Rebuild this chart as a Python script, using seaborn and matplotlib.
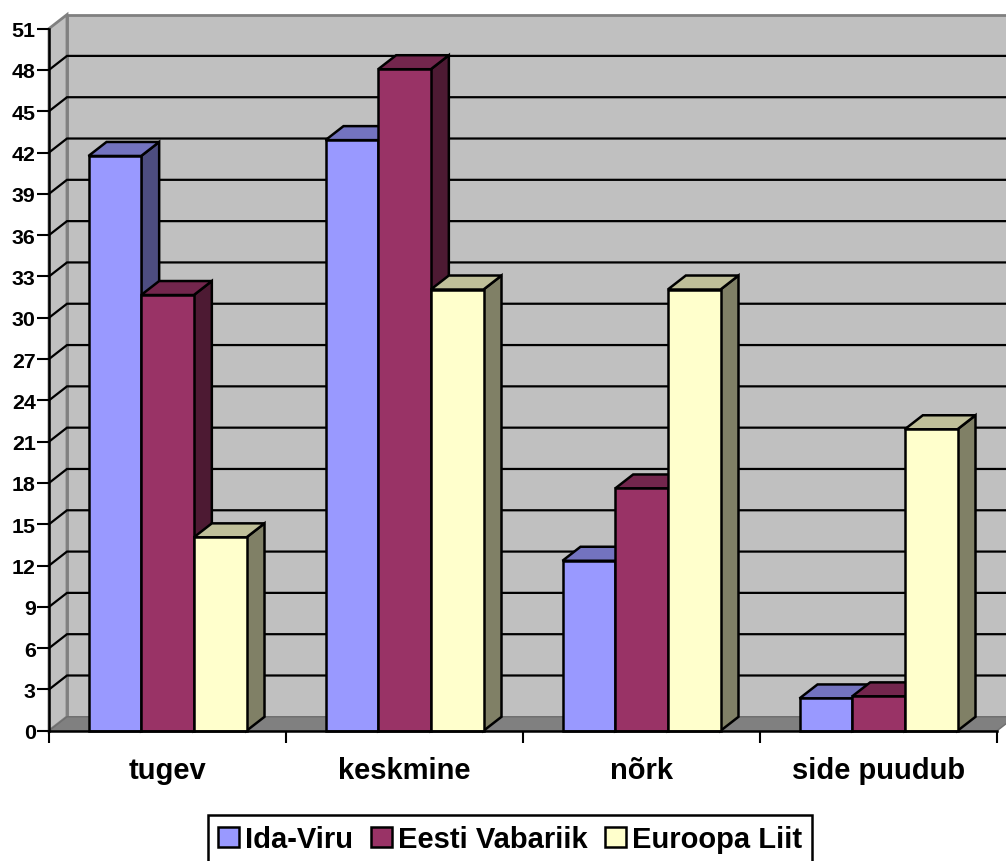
import matplotlib
matplotlib.use("Agg")
import matplotlib.pyplot as plt
from matplotlib.patches import Polygon, Patch
import pandas as pd
import seaborn as sns

categories = ["tugev", "keskmine", "nõrk", "side puudub"]
series_names = ["Ida-Viru", "Eesti Vabariik", "Euroopa Liit"]
ida_viru = [41.75, 42.9, 12.35, 2.35]
eesti_vabariik = [31.65, 48.05, 17.6, 2.5]
euroopa_liit = [14.05, 32.05, 32.05, 21.9]
front_colors = ["#9999FF", "#993366", "#FFFFCC"]
top_colors = ["#7373BF", "#73264D", "#BFBF99"]
side_colors = ["#4D4D80", "#4D1A33", "#808066"]
y_ticks = list(range(0, 52, 3))

sns.set_theme(style="ticks")
plt.rcParams["font.family"] = ["Liberation Sans", "DejaVu Sans"]
plt.rcParams["font.weight"] = "bold"

W, H = 1006, 862
AX_BOTTOM, AX_TOP = 731.8, 29.6
LW = 1.8
fig = plt.figure(figsize=(W / 100, H / 100), dpi=100, facecolor="white")
ax = fig.add_axes([49 / W, (H - AX_BOTTOM) / H, (997 - 49) / W, (AX_BOTTOM - AX_TOP) / H])

table = pd.DataFrame({
    "kategooria": categories * 3,
    "seeria": [s for s in series_names for _ in categories],
    "protsent": ida_viru + eesti_vabariik + euroopa_liit,
})
sns.barplot(data=table, x="kategooria", y="protsent", hue="seeria",
            hue_order=series_names, palette=front_colors, order=categories,
            width=2 / 3, gap=0, saturation=1, legend=False, ax=ax,
            edgecolor="black", linewidth=LW, err_kws={"linewidth": 0})

ax.set_xlim(-0.5, 3.5)
ax.set_ylim(0, 51)
ax.set_xlabel("")
ax.set_ylabel("")
ax.set_facecolor("none")

# Depth of the pseudo-3D box, expressed in data units
dx = 18 / ((997 - 49) / 4)
dy = 14 / ((AX_BOTTOM - AX_TOP) / 51)
xl, xr = ax.get_xlim()
ytop = ax.get_ylim()[1]
GRAY = "#808080"
WALL = "#C0C0C0"

ax.add_patch(Polygon([(xl + dx, dy), (xr + dx, dy), (xr + dx, ytop + dy), (xl + dx, ytop + dy)],
                     closed=True, fc=WALL, ec=GRAY, lw=2, zorder=0.2, clip_on=False))
ax.add_patch(Polygon([(xl, 0), (xl + dx, dy), (xl + dx, ytop + dy), (xl, ytop)],
                     closed=True, fc=WALL, ec=GRAY, lw=2, zorder=0.3, clip_on=False))
ax.add_patch(Polygon([(xl, 0), (xr, 0), (xr + dx, dy), (xl + dx, dy)],
                     closed=True, fc=GRAY, ec="#6E6E6E", lw=1, zorder=0.4, clip_on=False))

for t in y_ticks[1:-1]:
    ax.plot([xl, xl + dx, xr + dx], [t, t + dy, t + dy], color="black", lw=1.6,
            zorder=0.5, clip_on=False, solid_joinstyle="miter")

# Bars stack left to right so each front face hides its neighbour's side face
order = 2.0
bars = sorted((b for c in ax.containers for b in c), key=lambda b: b.get_x())
for bar in bars:
    idx = next(i for i, c in enumerate(ax.containers) if bar in c.patches)
    x0, w, h = bar.get_x(), bar.get_width(), bar.get_height()
    x1 = x0 + w
    ax.add_patch(Polygon([(x1, 0), (x1 + dx, dy), (x1 + dx, h + dy), (x1, h)], closed=True,
                         fc=side_colors[idx], ec="black", lw=LW, zorder=order,
                         clip_on=False, joinstyle="miter"))
    ax.add_patch(Polygon([(x0, h), (x0 + dx, h + dy), (x1 + dx, h + dy), (x1, h)], closed=True,
                         fc=top_colors[idx], ec="black", lw=LW, zorder=order + 0.1,
                         clip_on=False, joinstyle="miter"))
    bar.set_zorder(order + 0.2)
    bar.set_clip_on(False)
    order += 1

for name in ("top", "right"):
    ax.spines[name].set_visible(False)
for name in ("left", "bottom"):
    ax.spines[name].set_color("black")
    ax.spines[name].set_linewidth(LW)
    ax.spines[name].set_zorder(100)

ax.set_yticks(y_ticks)
ax.tick_params(axis="y", which="major", length=8.6, width=1.5, color="black",
               labelsize=15.4, pad=1.0, labelcolor="black")
boundaries = [i - 0.5 for i in range(len(categories) + 1)]
ax.set_xticks(boundaries)
ax.set_xticklabels([""] * len(boundaries))
ax.tick_params(axis="x", which="major", length=8.6, width=1.5, color="black")
ax.set_xticks(range(len(categories)), categories, minor=True)
ax.tick_params(axis="x", which="minor", length=0, labelsize=21, pad=18, labelcolor="black")
for lab in ax.get_xticklabels(minor=True) + ax.get_yticklabels():
    lab.set_fontweight("bold")

# The legend box runs past the lower edge of the figure
handles = [Patch(facecolor=c, edgecolor="black", linewidth=LW, label=n)
           for c, n in zip(front_colors, series_names)]
leg = fig.legend(handles=handles, loc="center", bbox_to_anchor=(510 / W, (H - 840.5) / H),
                 bbox_transform=fig.transFigure, ncol=3, frameon=True,
                 fancybox=False, edgecolor="black", framealpha=1, facecolor="white",
                 handlelength=0.72, handleheight=0.68, handletextpad=0.2,
                 columnspacing=0.6, borderpad=0.36, borderaxespad=0, labelcolor="black",
                 prop={"family": "Liberation Sans", "weight": "bold", "size": 21})
leg.get_frame().set_linewidth(LW)

fig.savefig("out.png", dpi=100, facecolor="white")
